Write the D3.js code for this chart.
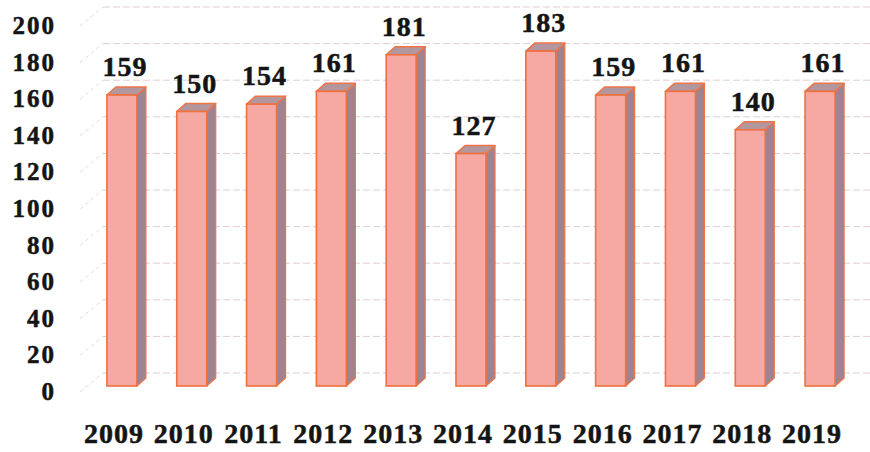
<!DOCTYPE html>
<html>
<head>
<meta charset="utf-8">
<script src="https://cdn.jsdelivr.net/npm/d3@7"></script>
<style>
  body { margin: 0; background: #fff; }
  svg text { font-family: "Times New Roman", Times, "Liberation Serif", serif; font-weight: 700; fill: #141414; stroke: #141414; stroke-width: 0.5px; }
</style>
</head>
<body>
<div id="chart"></div>
<script>
// data
var years = ["2009", "2010", "2011", "2012", "2013", "2014", "2015", "2016", "2017", "2018", "2019"];
var values = [159, 150, 154, 161, 181, 127, 183, 159, 161, 140, 161];
var yTicks = [0, 20, 40, 60, 80, 100, 120, 140, 160, 180, 200];

var width = 870, height = 452;
var depth = { dx: 9, dy: -8 };   // 3d side offset
var wall = { dx: 23, dy: -13 };  // back wall offset for grid

var svg = d3.select("#chart").append("svg")
  .attr("width", width)
  .attr("height", height);

var x = d3.scaleBand()
  .domain(years)
  .range([87, 855])
  .paddingInner(0.57)
  .paddingOuter(0.285);

var y = d3.scaleLinear()
  .domain([0, 200])
  .range([386, 20]);

// grid on the back wall, with the short slanted piece on the left wall
var grid = svg.append("g").attr("class", "grid");
yTicks.forEach(function (v) {
  var yb = y(v) + wall.dy;
  grid.append("line")
    .attr("x1", 80).attr("y1", yb + 19)
    .attr("x2", 80 + wall.dx).attr("y2", yb)
    .attr("stroke", "#e6dade")
    .attr("stroke-width", 1)
    .attr("stroke-dasharray", "4,3");
  grid.append("line")
    .attr("x1", 80 + wall.dx).attr("y1", yb)
    .attr("x2", width).attr("y2", yb)
    .attr("stroke", "#e0ccd6")
    .attr("stroke-width", 1)
    .attr("stroke-dasharray", "7,3");
});

// y axis labels
svg.append("g").selectAll("text")
  .data(yTicks).enter()
  .append("text")
  .attr("x", 56)
  .attr("y", function (d) { return y(d) + 14; })
  .attr("text-anchor", "end")
  .style("font-size", "25px")
  .style("letter-spacing", "2px")
  .text(function (d) { return d; });

var bars = svg.append("g").selectAll("g")
  .data(years.map(function (d, i) { return { year: d, value: values[i] }; }))
  .enter().append("g");

// side face
bars.append("polygon")
  .attr("points", function (d) {
    var x1 = x(d.year) + x.bandwidth(), yt = y(d.value), yb = y(0);
    return [[x1, yt], [x1 + depth.dx, yt + depth.dy], [x1 + depth.dx, yb + depth.dy], [x1, yb]].join(" ");
  })
  .attr("fill", "#9e8490")
  .attr("stroke", "#ee7448")
  .attr("stroke-width", 1.2)
  .attr("stroke-linejoin", "round");

// top face
bars.append("polygon")
  .attr("points", function (d) {
    var x0 = x(d.year), x1 = x0 + x.bandwidth(), yt = y(d.value);
    return [[x0, yt], [x0 + depth.dx, yt + depth.dy], [x1 + depth.dx, yt + depth.dy], [x1, yt]].join(" ");
  })
  .attr("fill", "#b3979e")
  .attr("stroke", "#ee7448")
  .attr("stroke-width", 1.5)
  .attr("stroke-linejoin", "round");

// front face
bars.append("rect")
  .attr("x", function (d) { return x(d.year); })
  .attr("y", function (d) { return y(d.value); })
  .attr("width", x.bandwidth())
  .attr("height", function (d) { return y(0) - y(d.value); })
  .attr("fill", "#f5a9a2")
  .attr("stroke", "#f0703e")
  .attr("stroke-width", 1.6);

// value labels
bars.append("text")
  .attr("x", function (d) { return x(d.year) + x.bandwidth() / 2 + 3; })
  .attr("y", function (d) { return y(d.value) - 19; })
  .attr("text-anchor", "middle")
  .style("font-size", "28px")
  .style("letter-spacing", "1px")
  .text(function (d) { return d.value; });

// x axis labels
svg.append("g").selectAll("text")
  .data(years).enter()
  .append("text")
  .attr("x", function (d) { return x(d) + x.bandwidth() / 2 - 8; })
  .attr("y", 443)
  .attr("text-anchor", "middle")
  .style("font-size", "28px")
  .style("letter-spacing", "1px")
  .text(function (d) { return d; });
</script>
</body>
</html>
